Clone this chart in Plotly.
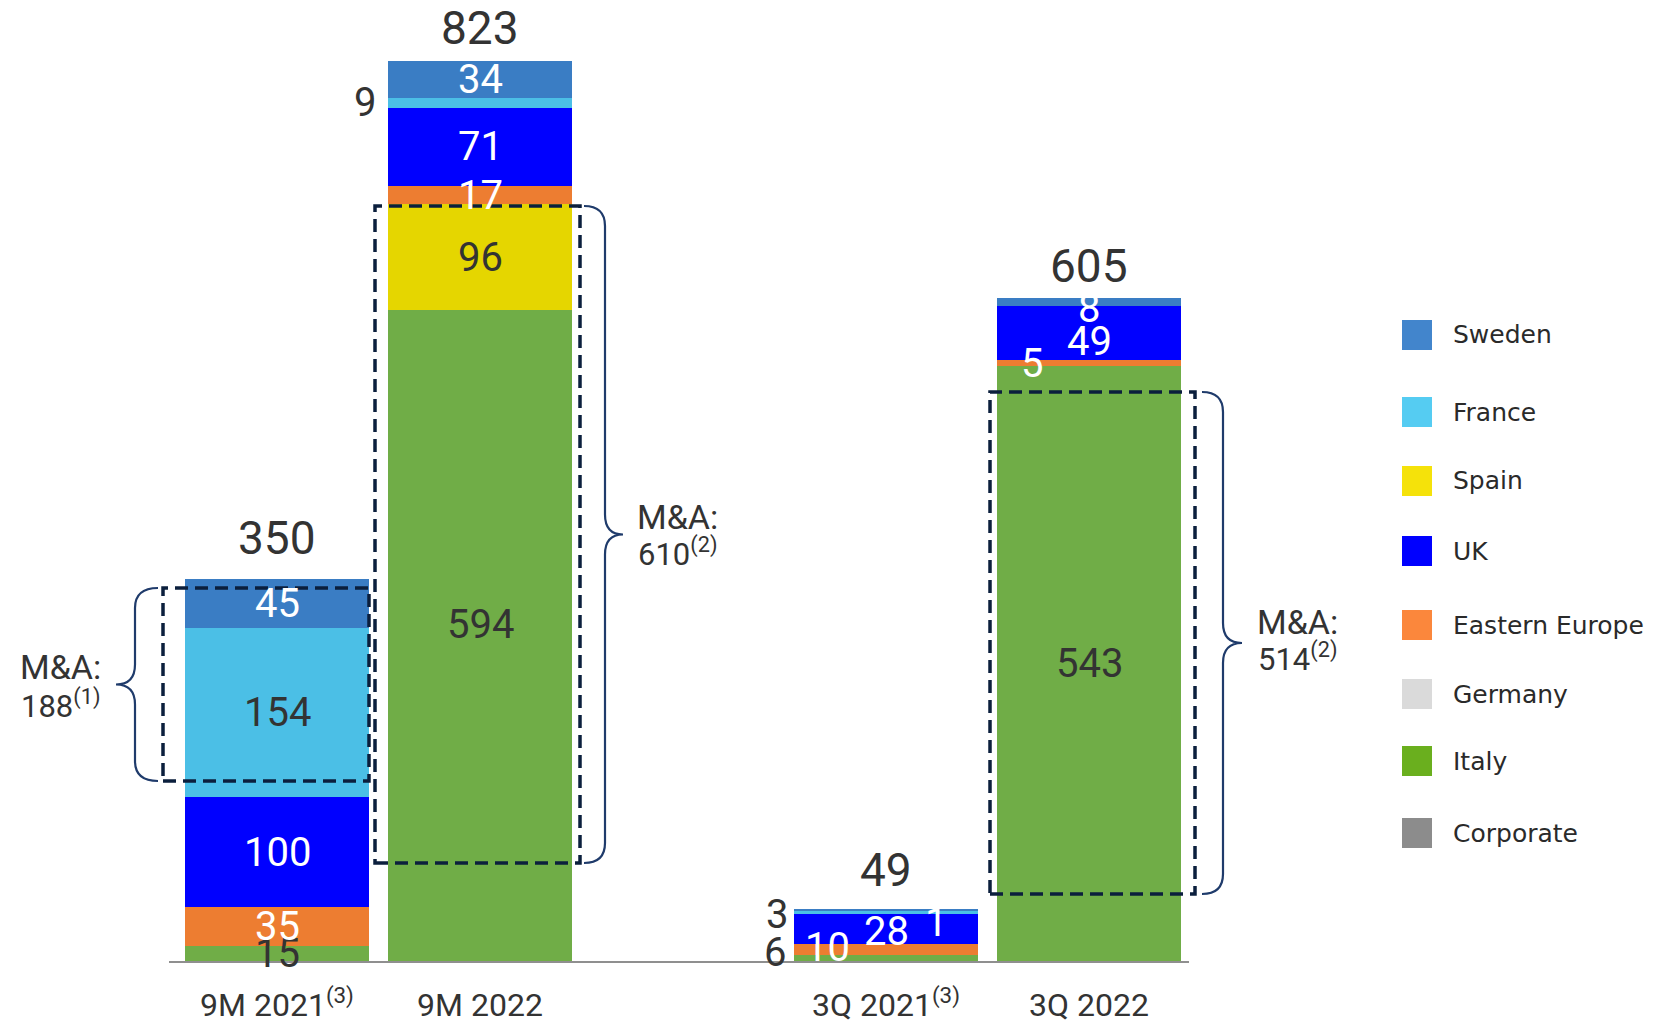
import plotly.graph_objects as go

# ---- data -------------------------------------------------------------
categories = ["9M 2021<sup>(3)</sup>", "9M 2022", "3Q 2021<sup>(3)</sup>", "3Q 2022"]
cat_pos = [0, 1, 3, 4]          # gap between the 9M pair and the 3Q pair
totals = [350, 823, 49, 605]

italy = [15, 594, 6, 543]
spain = [None, 96, None, None]
eastern_europe = [35, 17, 10, 5]
uk = [100, 71, 28, 49]
france = [154, 9, 3, None]
sweden = [45, 34, 1, 8]
germany = [None, None, None, None]
corporate = [None, None, None, None]

ma_values = ["188<sup>(1)</sup>", "610<sup>(2)</sup>", "514<sup>(2)</sup>"]

legend_names = ["Sweden", "France", "Spain", "UK", "Eastern Europe",
                "Germany", "Italy", "Corporate"]

# ---- styling ----------------------------------------------------------
DARK = "#333333"
WHITE = "#FFFFFF"
NAVY = "#0B1F3D"
BRACE = "#1F3B6B"
FONT = "Roboto, Arial, sans-serif"

bar_colors = {
    "Italy": "#70AD47", "Spain": "#E5D600", "Eastern Europe": "#ED7D31",
    "UK": "#0000FF", "France": "#4BBFE6", "Sweden": "#3A7DC4",
    "Germany": "#DADADA", "Corporate": "#8C8C8C",
}
legend_colors = {
    "Sweden": "#4285CC", "France": "#55CCF2", "Spain": "#F5E20A",
    "UK": "#0000FF", "Eastern Europe": "#FB873C", "Germany": "#DADADA",
    "Italy": "#6AAF1E", "Corporate": "#8C8C8C",
}
label_colors = {
    "Italy": DARK, "Spain": DARK, "Eastern Europe": WHITE, "UK": WHITE,
    "France": DARK, "Sweden": WHITE,
}

# stacking order, bottom to top
stack = [
    ("Italy", italy), ("Spain", spain), ("Eastern Europe", eastern_europe),
    ("UK", uk), ("France", france), ("Sweden", sweden),
    ("Germany", germany), ("Corporate", corporate),
]

# small segments get their labels nudged aside (pixels)
label_nudge = {
    ("Italy", 1): dict(dy=11),
    ("France", 1): dict(dx=-115, color=DARK),
    ("Italy", 2): dict(dx=-111, dy=6, color=DARK),
    ("Eastern Europe", 2): dict(dx=-59, dy=2),
    ("UK", 2): dict(dy=-2),
    ("France", 2): dict(dx=-109, dy=-2, color=DARK),
    ("Sweden", 2): dict(dx=50, dy=-13),
    ("Eastern Europe", 3): dict(dx=-57),
    ("UK", 3): dict(dy=-8),
    ("Sweden", 3): dict(dy=-6),
}
# distance (px) from stack top to the centre of the total label
total_gap = [41, 33, 39, 32]

# ---- geometry of the canvas ------------------------------------------
W, H = 1657, 1020
M_L, M_R, M_T, M_B = 0, 357, 0, 54
PLOT_W = W - M_L - M_R
PLOT_H = H - M_T - M_B
X_UNIT = 203.0      # px per category step
X0 = 277.0          # px of first category centre
Y_UNIT = 1.098      # px per value unit
BASE_PX = 962.0     # px of the zero line

x_range = [(0 - X0) / X_UNIT, (PLOT_W - X0) / X_UNIT]
y_range = [-(PLOT_H - BASE_PX) / Y_UNIT, BASE_PX / Y_UNIT]
BAR_W = 0.906

fig = go.Figure()

annotations = []
base = [0.0] * len(cat_pos)
for name, vals in stack:
    fig.add_trace(go.Bar(
        x=cat_pos, y=vals, name=name, width=BAR_W,
        marker=dict(color=bar_colors[name], line=dict(width=0)),
        showlegend=False, hoverinfo="skip",
    ))
    for i, v in enumerate(vals):
        if not v:
            continue
        nd = label_nudge.get((name, i), {})
        annotations.append(dict(
            x=cat_pos[i], y=base[i] + v / 2, xref="x", yref="y",
            text=str(v), showarrow=False,
            font=dict(size=40, color=nd.get("color", label_colors[name]), family=FONT),
            xshift=nd.get("dx", 0), yshift=nd.get("dy", 0),
        ))
        base[i] += v

# totals above each stack
for i, t in enumerate(totals):
    annotations.append(dict(
        x=cat_pos[i], y=base[i], xref="x", yref="y", text=str(t),
        showarrow=False, yanchor="middle", yshift=total_gap[i],
        font=dict(size=46, color=DARK, family=FONT),
    ))

# ---- M&A dashed boxes with braces ------------------------------------
def px_x(p):
    return (p - X0) / X_UNIT

def px_y(p):
    return (BASE_PX - p) / Y_UNIT

groups = [
    # box left/right/top/bottom px, brace end/vertical/tip px, text centre x and line y px
    dict(box=(163, 369, 588, 781), brace=(158, 135, 116), text=(60, 667, 704)),
    dict(box=(375, 580, 206, 863), brace=(584, 605, 623), text=(677, 517, 552)),
    dict(box=(990, 1195, 392, 894), brace=(1202, 1223, 1242), text=(1297, 622, 657)),
]

shapes = []
for g, val in zip(groups, ma_values):
    x0, x1, yt, yb = g["box"]
    shapes.append(dict(
        type="rect", xref="x", yref="y",
        x0=px_x(x0), x1=px_x(x1), y0=px_y(yb), y1=px_y(yt),
        line=dict(color=NAVY, width=3.5, dash="13px,7px"),
        fillcolor="rgba(0,0,0,0)", layer="above",
    ))
    xe, xv, xt = (px_x(p) for p in g["brace"])
    ytop, ybot = px_y(yt), px_y(yb)
    ymid = (ytop + ybot) / 2
    r = 20 / Y_UNIT
    path = (
        f"M {xe},{ytop} Q {xv},{ytop} {xv},{ytop - r} "
        f"L {xv},{ymid + r} Q {xv},{ymid} {xt},{ymid} "
        f"Q {xv},{ymid} {xv},{ymid - r} "
        f"L {xv},{ybot + r} Q {xv},{ybot} {xe},{ybot}"
    )
    shapes.append(dict(type="path", xref="x", yref="y", path=path,
                       line=dict(color=BRACE, width=2.2), layer="above"))
    tx, ty1, ty2 = g["text"]
    annotations.append(dict(x=px_x(tx), y=px_y(ty1), xref="x", yref="y",
                            text="M&A:", showarrow=False,
                            font=dict(size=34, color=DARK, family=FONT)))
    annotations.append(dict(x=px_x(tx), y=px_y(ty2), xref="x", yref="y",
                            text=val, showarrow=False,
                            font=dict(size=31, color=DARK, family=FONT)))

# zero line
shapes.append(dict(type="line", xref="x", yref="y",
                   x0=px_x(169), x1=px_x(1189), y0=0, y1=0,
                   line=dict(color="#8F8F8F", width=2), layer="above"))

# ---- legend drawn as squares + labels --------------------------------
LEG_SW_X0, LEG_SW = 1402, 30
LEG_TEXT_X = 1451
legend_rows_px = [335, 412, 481, 551, 625, 694, 761, 833]
for name, cy in zip(legend_names, legend_rows_px):
    shapes.append(dict(
        type="rect", xref="paper", yref="paper",
        x0=LEG_SW_X0 / PLOT_W, x1=(LEG_SW_X0 + LEG_SW) / PLOT_W,
        y0=(PLOT_H - (cy + LEG_SW / 2)) / PLOT_H, y1=(PLOT_H - (cy - LEG_SW / 2)) / PLOT_H,
        fillcolor=legend_colors[name], line=dict(width=0),
    ))
    annotations.append(dict(
        x=LEG_TEXT_X / PLOT_W, y=(PLOT_H - cy) / PLOT_H, xref="paper", yref="paper",
        text=name, showarrow=False, xanchor="left", yanchor="middle",
        font=dict(size=25, color="#2A2A2A", family="DejaVu Sans, sans-serif"),
    ))

# partial glyph at the top-left edge
annotations.append(dict(x=-3 / PLOT_W, y=(PLOT_H - 10) / PLOT_H, xref="paper", yref="paper",
                        text=")", showarrow=False, xanchor="center", yanchor="middle",
                        font=dict(size=22, color="#0B2C5C", family=FONT)))

fig.update_layout(
    width=W, height=H, autosize=False,
    margin=dict(l=M_L, r=M_R, t=M_T, b=M_B, pad=0, autoexpand=False),
    paper_bgcolor="white", plot_bgcolor="white",
    barmode="stack", showlegend=False,
    font=dict(family=FONT, color=DARK),
    xaxis=dict(range=x_range, tickvals=cat_pos, ticktext=categories,
               showgrid=False, zeroline=False, showline=False, ticks="",
               tickfont=dict(size=32, color=DARK, family=FONT),
               ticklabelstandoff=17, automargin=False, fixedrange=True),
    yaxis=dict(range=y_range, visible=False, automargin=False, fixedrange=True),
    shapes=shapes, annotations=annotations,
)

fig.write_html("out.html")
